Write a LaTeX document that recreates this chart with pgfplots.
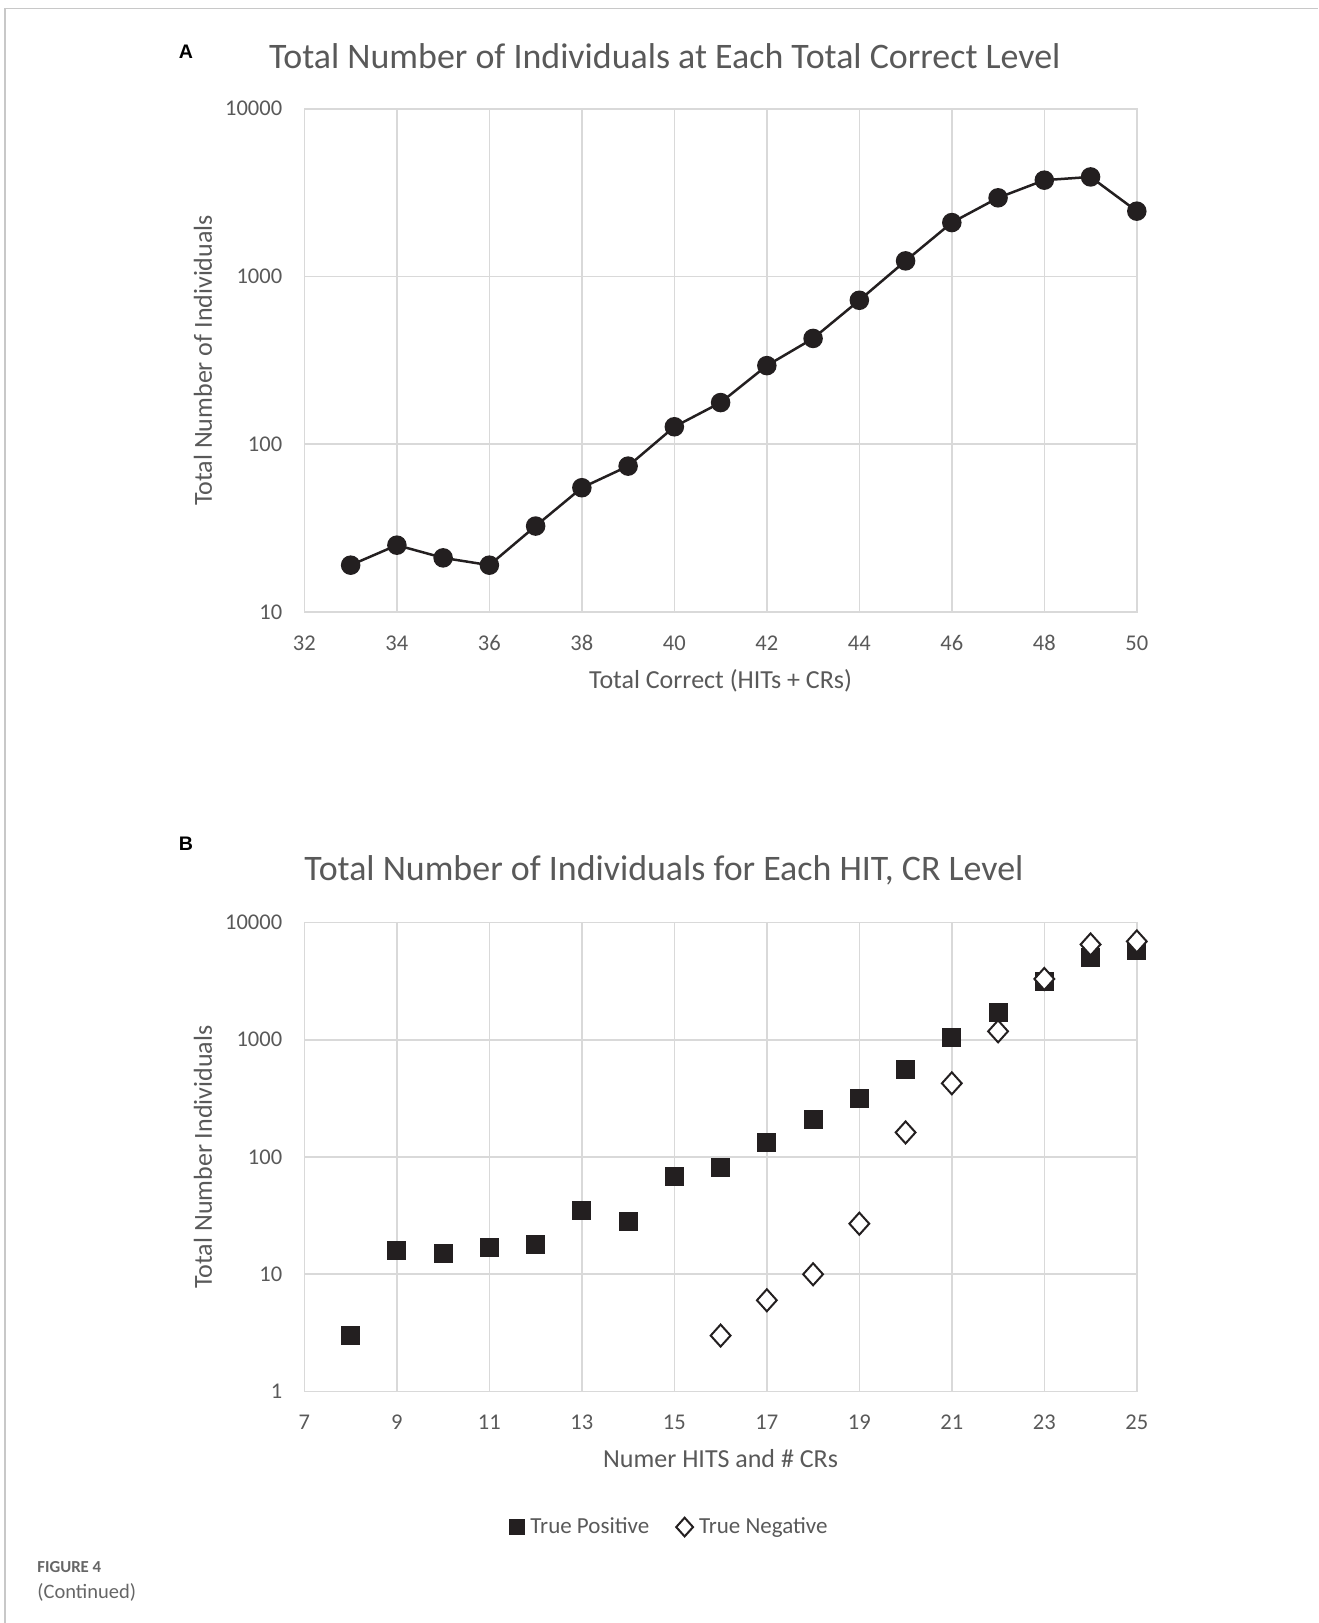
\documentclass[border=0pt]{standalone}
\usepackage{pgfplots}
\pgfplotsset{compat=1.18}
\usepackage{fontspec}
\setmainfont{Carlito}
\newfontfamily\arialfont{Liberation Sans}
\definecolor{txtgray}{HTML}{595959}
\definecolor{gridgray}{HTML}{D9D9D9}
\definecolor{framegray}{HTML}{C8C8C8}
\definecolor{dk}{HTML}{231F20}
\definecolor{figgray}{HTML}{666666}
\pgfplotsset{
  myaxis/.style={
    scale only axis,
    width=416.2pt,
    axis line style={gridgray, line width=0.8pt},
    grid=major,
    major grid style={gridgray, line width=0.8pt},
    major tick length=0pt,
    minor tick length=0pt,
    tick style={draw=none},
    /pgf/number format/assume math mode=true,
    ticklabel style={font=\fontsize{11.25}{13}\selectfont, text=txtgray},
    yticklabel style={anchor=east, inner sep=0pt, xshift=-10.9pt},
    label style={font=\fontsize{13}{15}\selectfont, text=txtgray},
    title style={font=\fontsize{17.95}{21}\selectfont, text=txtgray, anchor=base},
    ylabel style={at={(axis description cs:-0.1218,0.5)}, anchor=center},
    xlabel style={at={(axis description cs:0.5,0)}, anchor=base},
    clip=false,
  }
}
\begin{document}
\begin{tikzpicture}
\path[use as bounding box] (0,0) rectangle (659pt,-811.5pt);
\draw[framegray, line width=0.75pt] (2.5pt,-811.5pt) -- (2.5pt,-4.2pt) -- (659pt,-4.2pt);
% Panel A
\begin{semilogyaxis}[myaxis,
  at={(152.2pt,-305.95pt)}, anchor=south west,
  height=251.6pt,
  xmin=32, xmax=50, xtick={32,34,...,50},
  ymin=10, ymax=10000, ytick={10,100,1000,10000}, yticklabels={10,100,1000,10000},
  xticklabel style={anchor=base, inner sep=0pt, yshift=-19.3pt},
  xlabel={Total Correct (HITs + CRs)},
  xlabel style={yshift=-38.3pt},
  ylabel={Total Number of Individuals},
  title={Total Number of Individuals at Each Total Correct Level},
  title style={at={(axis description cs:0.433,1)}, yshift=14.2pt},
]
\addplot[dk, line width=1.25pt, mark=*, mark size=4.25pt, mark options={fill=dk}] coordinates {
(33,19) (34,25) (35,21) (36,19) (37,32.5) (38,55) (39,74) (40,127) (41,177)
(42,294) (43,427) (44,721) (45,1238) (46,2095) (47,2943) (48,3750) (49,3920) (50,2450)
};
\end{semilogyaxis}
% Panel B
\begin{semilogyaxis}[myaxis,
  at={(152.2pt,-695.75pt)}, anchor=south west,
  height=234.5pt,
  xmin=7, xmax=25, xtick={7,9,...,25},
  ymin=1, ymax=10000, ytick={1,10,100,1000,10000}, yticklabels={1,10,100,1000,10000},
  xticklabel style={anchor=base, inner sep=0pt, yshift=-19.1pt},
  xlabel={Numer HITS and \# CRs},
  xlabel style={yshift=-38pt},
  ylabel={Total Number Individuals},
  title={Total Number of Individuals for Each HIT, CR Level},
  title style={at={(axis description cs:0.432,1)}, yshift=14.8pt},
  legend style={at={(axis description cs:0.439,-0.289)}, anchor=center, draw=none, fill=none,
    legend columns=2, font=\fontsize{11.5}{13}\selectfont, text=txtgray,
    /tikz/every odd column/.append style={column sep=1.5pt},
    /tikz/every even column/.append style={column sep=12pt},
    nodes={inner sep=1.5pt}},
  legend image code/.code={\draw[#1, mark repeat=1, every mark/.append style={scale=0.85}] plot coordinates {(0pt,0pt)};},
]
\addplot[only marks, mark=square*, mark size=4.5pt, dk, mark options={fill=dk, draw=dk}] coordinates {
(8,3) (9,16) (10,15) (11,17) (12,18) (13,35) (14,28) (15,68) (16,81) (17,133)
(18,208) (19,318) (20,562) (21,1042) (22,1700) (23,3140) (24,5000) (25,5800)
};
\addlegendentry{True Positive}
\addplot[only marks, mark=diamond*, mark size=5.5pt, dk, mark options={fill=white, draw=dk, line width=1pt, xscale=1.2}] coordinates {
(16,3) (17,6) (18,10) (19,27) (20,162) (21,425) (22,1180) (23,3300) (24,6500) (25,6900)
};
\addlegendentry{True Negative}
\end{semilogyaxis}
\node[font=\arialfont\bfseries\fontsize{9.8}{11}\selectfont, text=black] at (93pt,-26pt) {A};
\node[font=\arialfont\bfseries\fontsize{9.8}{11}\selectfont, text=black] at (93pt,-422pt) {B};
\node[anchor=west, inner sep=0pt, font=\bfseries\fontsize{8.4}{10}\selectfont, text=figgray] at (18.5pt,-783.7pt) {FIGURE 4};
\node[anchor=west, inner sep=0pt, font=\fontsize{10.25}{12}\selectfont, text=figgray] at (18.5pt,-796pt) {(Continued)};
\end{tikzpicture}
\end{document}
